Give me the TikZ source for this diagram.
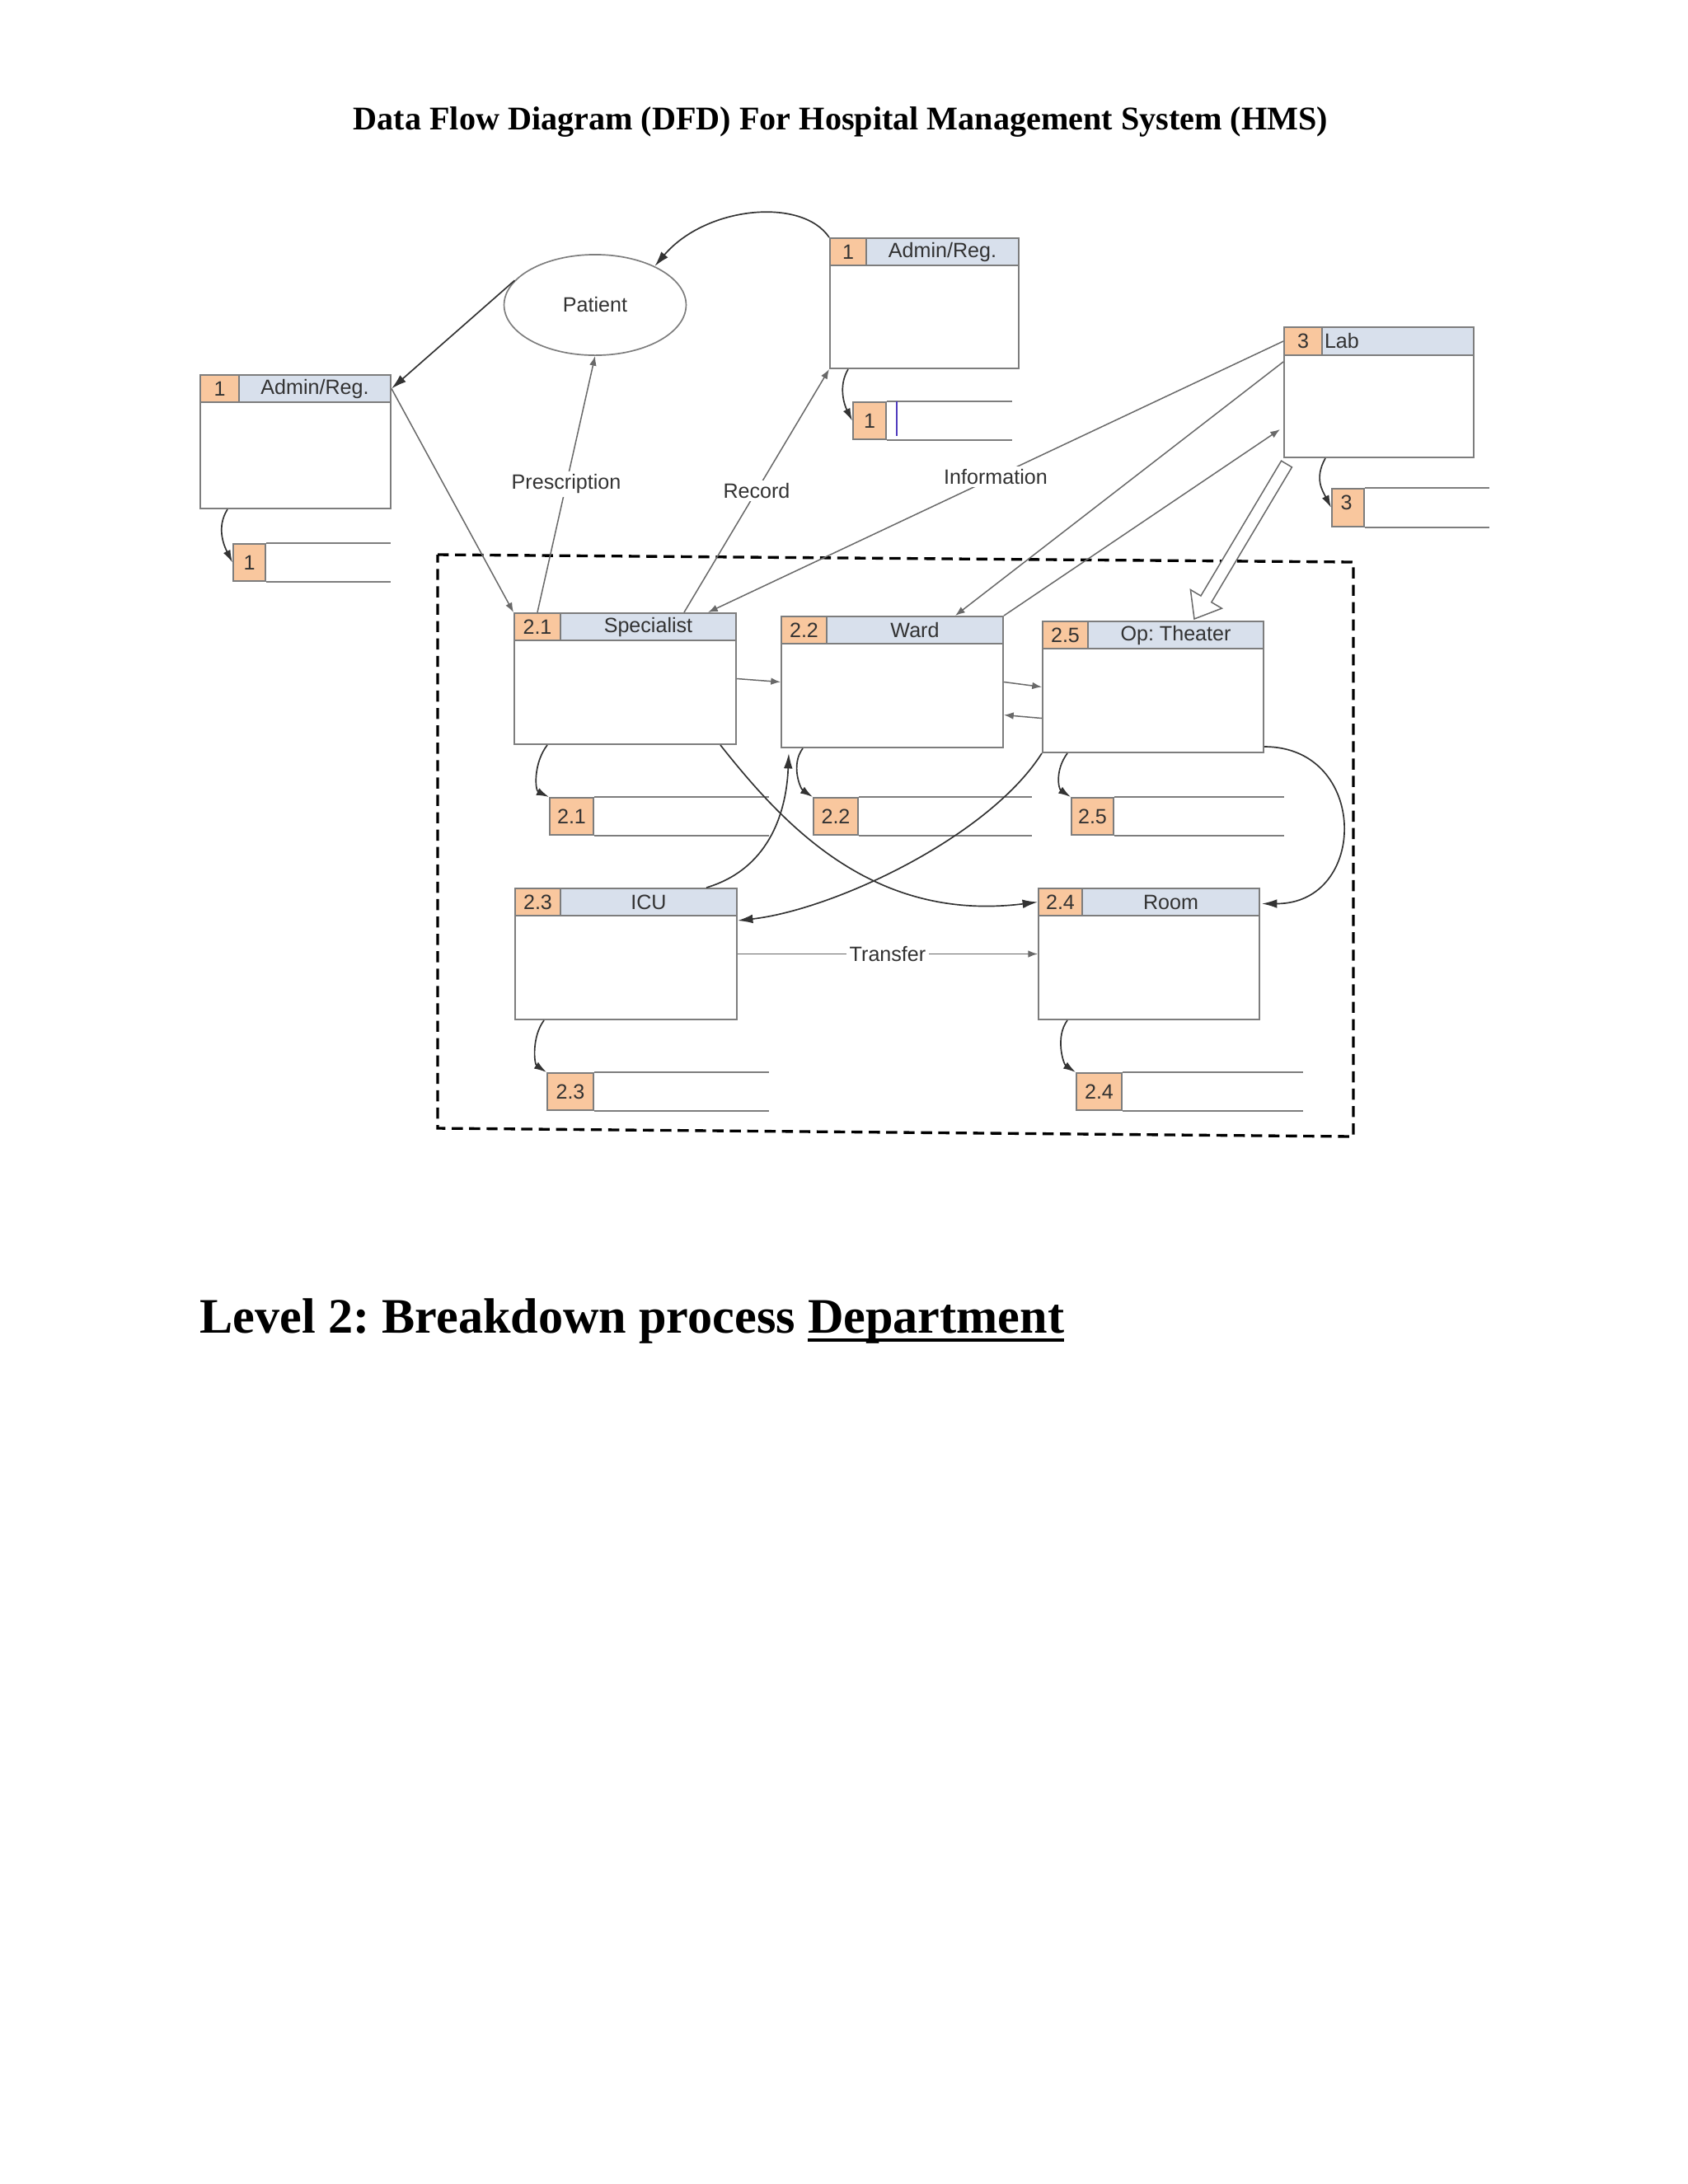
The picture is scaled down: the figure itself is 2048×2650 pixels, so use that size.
\documentclass[tikz,border=0pt]{standalone}
\usepackage{fontspec}
\setmainfont{Liberation Serif}
\newfontfamily\dfdsans{Liberation Sans}
\usetikzlibrary{arrows.meta,calc,fit,shapes.geometric}
\definecolor{numorange}{RGB}{249,199,158}
\definecolor{hdrblue}{RGB}{216,224,236}
\definecolor{boxgrey}{RGB}{125,125,125}
\definecolor{flowgrey}{RGB}{105,105,105}
\definecolor{txtgrey}{RGB}{50,50,50}
\definecolor{caret}{RGB}{80,60,190}
\newcommand{\dfdul}[1]{\setbox0=\hbox{#1}\rlap{\rule[-3.2pt]{\wd0}{1.2pt}}\box0}
\frenchspacing

\begin{document}
\begin{tikzpicture}[x=0.2988pt, y=-0.2988pt,
	procbody/.style={draw=boxgrey, line width=0.6pt, fill=white, inner sep=0pt},
	hdrcell/.style={draw=boxgrey, line width=0.6pt, fill=hdrblue, inner sep=0pt},
	numcell/.style={draw=boxgrey, line width=0.6pt, fill=numorange, inner sep=0pt},
	lbl/.style={inner sep=1pt, text=txtgrey, font=\dfdsans\fontsize{7.5}{8}\selectfont},
	storeline/.style={draw=boxgrey, line width=0.6pt},
	flow/.style={draw=flowgrey, line width=0.45pt, -{Latex[length=3.5pt,width=2.6pt]}},
	curvy/.style={draw=black!80, line width=0.5pt, -{Latex[length=5.5pt,width=3.2pt]}},
	tostore/.style={draw=black!80, line width=0.5pt, -{Latex[length=4.5pt,width=2.8pt]}},
	hollow/.style={draw=flowgrey, line width=0.45pt, fill=white},
	boundary/.style={draw=black, line width=1pt, dash pattern=on 4pt off 2.3pt}]
	\fill[white] (0,0) rectangle (2048,2650);

	% headings
	\node[inner sep=0pt, anchor=base, font=\bfseries\fontsize{12}{14}\selectfont] (title) at (1020,157) {Data Flow Diagram (DFD) For Hospital Management System (HMS)};
	\node[inner sep=0pt, anchor=base west, font=\bfseries\fontsize{18}{21}\selectfont] (level) at (242,1617) {Level 2: Breakdown process \dfdul{Department}};

	% department boundary
	\draw[boundary] (531,673) -- (1642,682) -- (1642,1379) -- (531,1369) -- cycle;

	% level 1 processes
	\node[procbody, fit={(243,455)(474,617)}] (adminL) {};
	\node[hdrcell, fit={(290,455)(474,488)}] (adminL-h) {};
	\node[numcell, fit={(243,455)(290,488)}] (adminL-n) {};
	\node[lbl] at (adminL-n) {1};
	\node[lbl] at (adminL-h) {Admin/Reg.};

	\node[procbody, fit={(1007,289)(1236,447)}] (adminT) {};
	\node[hdrcell, fit={(1051,289)(1236,322)}] (adminT-h) {};
	\node[numcell, fit={(1007,289)(1051,322)}] (adminT-n) {};
	\node[lbl] at (adminT-n) {1};
	\node[lbl] at (adminT-h) {Admin/Reg.};

	\node[procbody, fit={(1558,397)(1788,555)}] (lab) {};
	\node[hdrcell, fit={(1604,397)(1788,431)}] (lab-h) {};
	\node[numcell, fit={(1558,397)(1604,431)}] (lab-n) {};
	\node[lbl] at (lab-n) {3};
	\node[lbl, anchor=west] at (lab-h.west) {Lab};

	\node[lbl, draw=boxgrey, line width=0.5pt, ellipse, minimum width=66pt, minimum height=36.5pt] (patient) at (722,370) {Patient};

	% level 2 processes
	\node[procbody, fit={(624,744)(893,903)}] (spec) {};
	\node[hdrcell, fit={(680,744)(893,777)}] (spec-h) {};
	\node[numcell, fit={(624,744)(680,777)}] (spec-n) {};
	\node[lbl] at (spec-n) {2.1};
	\node[lbl] at (spec-h) {Specialist};

	\node[procbody, fit={(948,748)(1217,907)}] (ward) {};
	\node[hdrcell, fit={(1003,748)(1217,781)}] (ward-h) {};
	\node[numcell, fit={(948,748)(1003,781)}] (ward-n) {};
	\node[lbl] at (ward-n) {2.2};
	\node[lbl] at (ward-h) {Ward};

	\node[procbody, fit={(1265,754)(1533,913)}] (op) {};
	\node[hdrcell, fit={(1320,754)(1533,787)}] (op-h) {};
	\node[numcell, fit={(1265,754)(1320,787)}] (op-n) {};
	\node[lbl] at (op-n) {2.5};
	\node[lbl] at (op-h) {Op: Theater};

	\node[procbody, fit={(625,1078)(894,1237)}] (icu) {};
	\node[hdrcell, fit={(680,1078)(894,1111)}] (icu-h) {};
	\node[numcell, fit={(625,1078)(680,1111)}] (icu-n) {};
	\node[lbl] at (icu-n) {2.3};
	\node[lbl] at (icu-h) {ICU};

	\node[procbody, fit={(1260,1078)(1528,1237)}] (room) {};
	\node[hdrcell, fit={(1313,1078)(1528,1111)}] (room-h) {};
	\node[numcell, fit={(1260,1078)(1313,1111)}] (room-n) {};
	\node[lbl] at (room-n) {2.4};
	\node[lbl] at (room-h) {Room};

	% data stores
	\node[numcell, fit={(283,660)(322,705)}] (stL) {};
	\node[lbl] at (stL) {1};
	\draw[storeline] (stL.north east) -- ++(151,0) (stL.south east) -- ++(151,0);
	\node[numcell, fit={(1035,488)(1075,533)}] (stT) {};
	\node[lbl] at (stT) {1};
	\draw[storeline] (stT.north east) -- ++(152,0) (stT.south east) -- ++(152,0);
	\draw[caret, line width=0.35pt] ($(stT.north east)+(12,0)$) -- ++(0,42);
	\node[numcell, fit={(1616,593)(1655,639)}] (st3) {};
	\node[lbl] at ($(st3)+(-2,-6)$) {3};
	\draw[storeline] (st3.north east) -- ++(151,0) (st3.south east) -- ++(151,0);
	\node[numcell, fit={(667,968)(720,1013)}] (st21) {};
	\node[lbl] at (st21) {2.1};
	\draw[storeline] (st21.north east) -- ++(212,0) (st21.south east) -- ++(212,0);
	\node[numcell, fit={(987,968)(1041,1013)}] (st22) {};
	\node[lbl] at (st22) {2.2};
	\draw[storeline] (st22.north east) -- ++(210,0) (st22.south east) -- ++(210,0);
	\node[numcell, fit={(1300,968)(1351,1013)}] (st25) {};
	\node[lbl] at (st25) {2.5};
	\draw[storeline] (st25.north east) -- ++(206,0) (st25.south east) -- ++(206,0);
	\node[numcell, fit={(664,1302)(720,1347)}] (st23) {};
	\node[lbl] at (st23) {2.3};
	\draw[storeline] (st23.north east) -- ++(212,0) (st23.south east) -- ++(212,0);
	\node[numcell, fit={(1306,1302)(1361,1347)}] (st24) {};
	\node[lbl] at (st24) {2.4};
	\draw[storeline] (st24.north east) -- ++(219,0) (st24.south east) -- ++(219,0);

	% flows
	\draw[curvy] (adminT.north west) .. controls +(-33,-49) and +(62,-73) .. (patient.33);
	\draw[curvy] (patient.163) -- (adminL-h.east);
	\draw[flow] (adminL-h.east) -- (spec.north west);
	\draw[flow] (spec-n.north) -- node[lbl, fill=white] {Prescription} (patient.south);
	\draw[flow] ($(spec.north east)+(-64,0)$) -- node[lbl, fill=white] {Record} (adminT.south west);
	\draw[flow] (lab-n.west) -- node[lbl, fill=white] {Information} ($(spec.north east)+(-35,0)$);
	\draw[flow] ($(lab.north west)+(0,43)$) -- ($(ward.north east)+(-59,0)$);
	\draw[flow] (ward.north east) -- ($(lab.south west)+(-4,-35)$);
	\draw[flow] (spec.east) -- (ward.west);
	\draw[flow] (ward.east) -- (op.west);
	\draw[flow] ($(op.west)+(0,38)$) -- ($(ward.east)+(0,40)$);
	\draw[flow] (icu.east) -- node[lbl, fill=white] {Transfer} (room.west);

	% lab to theater
	\coordinate (hs) at ($(lab.south west)+(4,7)$);
	\coordinate (ht) at ($(op.north west)+(185,-2)$);
	\coordinate (hb) at ($(ht)!8.4pt!(hs)$);
	\draw[hollow] ($(hs)!2.24pt!90:(ht)$) -- ($(hb)!2.24pt!90:(ht)$) -- ($(hb)!6.6pt!90:(ht)$) -- (ht) -- ($(hb)!6.6pt!-90:(ht)$) -- ($(hb)!2.24pt!-90:(ht)$) -- ($(hs)!2.24pt!-90:(ht)$) -- cycle;

	\draw[curvy] ($(spec.south east)+(-20,0)$) .. controls +(77,97) and +(-200,25) .. (room-n.west);
	\draw[curvy] (op.south west) .. controls +(-65,102) and +(116,-13) .. ($(icu.north east)+(0,40)$);
	\draw[curvy] ($(icu.north east)+(-38,0)$) .. controls +(74,-22) and +(-3,75) .. ($(ward.south west)+(10,6)$);
	\draw[curvy] ($(op.south east)+(0,-8)$) .. controls +(127,0) and +(130,0) .. ($(room-h.east)+(2,2)$);

	% to stores
	\draw[tostore] ($(adminL.south west)+(34,0)$) .. controls +(-14,22) and +(-10,-20) .. (stL.west);
	\draw[tostore] ($(adminT.south west)+(23,0)$) .. controls +(-12,20) and +(-10,-20) .. (stT.west);
	\draw[tostore] ($(lab.south west)+(51,0)$) .. controls +(-14,25) and +(-10,-20) .. (st3.west);
	\draw[tostore] ($(spec.south west)+(41,0)$) .. controls +(-17,22) and +(-17,-8) .. (st21.north west);
	\draw[tostore] ($(ward.south west)+(27,0)$) .. controls +(-15,20) and +(-15,-10) .. (st22.north west);
	\draw[tostore] ($(op.south west)+(31,0)$) .. controls +(-15,20) and +(-15,-10) .. (st25.north west);
	\draw[tostore] ($(icu.south west)+(36,0)$) .. controls +(-15,20) and +(-15,-10) .. (st23.north west);
	\draw[tostore] ($(room.south west)+(36,0)$) .. controls +(-15,20) and +(-15,-10) .. (st24.north west);
\end{tikzpicture}
\end{document}
